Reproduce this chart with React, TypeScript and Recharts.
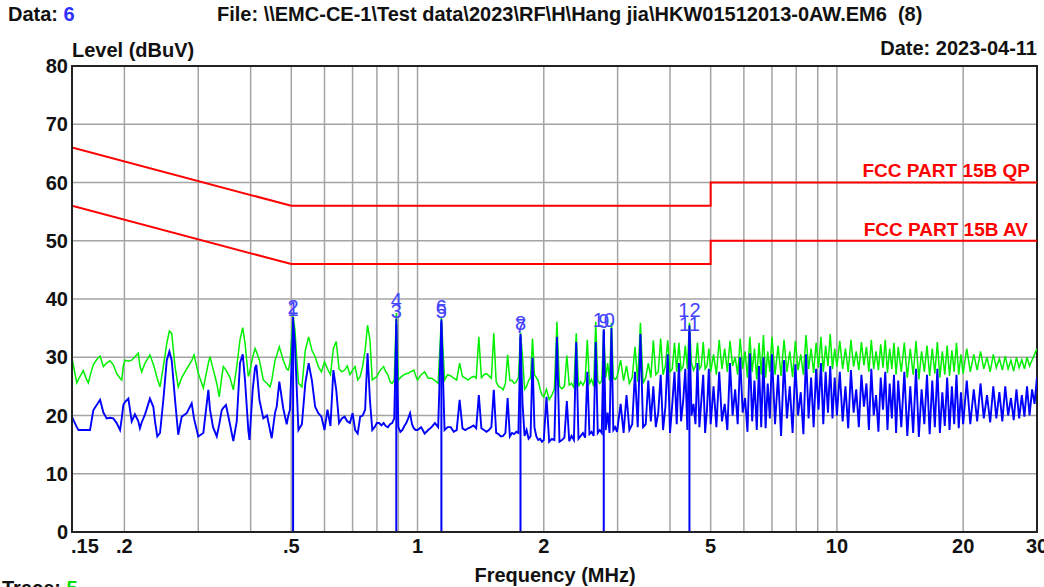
import React from 'react';
import {
  ComposedChart, Line, Scatter, XAxis, YAxis, CartesianGrid, ReferenceLine, ReferenceArea
} from 'recharts';

const FONT = '"Liberation Sans", Arial, sans-serif';

// sweep 0.15 - 0.5 MHz
const bandAFreq = [
  0.150, 0.1517, 0.154, 0.1554, 0.1568, 0.1596, 0.1626, 0.1641, 0.1656, 0.1686,
  0.1718, 0.175, 0.1782, 0.1815, 0.1848, 0.1882, 0.1917, 0.1953, 0.1971, 0.1988,
  0.2006, 0.2044, 0.2082, 0.2119, 0.2159, 0.2178, 0.2199, 0.224, 0.2301, 0.2344,
  0.2366, 0.2396, 0.2432, 0.2477, 0.2524, 0.256, 0.2593, 0.2641, 0.2688, 0.274,
  0.2816, 0.2894, 0.2931, 0.3, 0.3085, 0.3171, 0.32, 0.3254, 0.3321, 0.3367,
  0.3412, 0.3442, 0.3494, 0.3571, 0.3637, 0.3706, 0.3773, 0.383, 0.3879, 0.3949,
  0.3975, 0.4045, 0.4098, 0.4127, 0.4197, 0.4289, 0.4377, 0.4449, 0.4491, 0.4573,
  0.4615, 0.4682, 0.4785, 0.4876, 0.4919, 0.4964
];
const bandAPeak = [
  29.9, 28.0, 25.6, 26.2, 26.7, 27.7, 26.1, 25.6, 26.8, 28.7,
  29.6, 30.2, 28.4, 29.0, 29.4, 28.7, 27.2, 26.4, 26.1, 28.5,
  29.5, 29.3, 29.5, 30.1, 30.7, 28.5, 27.5, 29.0, 30.4, 28.8,
  27.8, 26.3, 24.9, 28.4, 32.4, 34.5, 34.1, 28.4, 24.9, 26.5,
  28.0, 29.4, 30.4, 27.3, 24.7, 29.0, 30.1, 28.0, 25.5, 23.2,
  26.5, 28.4, 27.8, 26.5, 24.4, 28.4, 33.0, 35.1, 32.4, 26.7,
  27.3, 30.0, 31.5, 31.0, 29.5, 26.1, 25.5, 24.9, 26.0, 29.5,
  30.3, 31.8, 29.5, 28.0, 27.8, 29.0
];
const bandAAvg = [
  19.8, 19.0, 18.0, 17.5, 17.5, 17.5, 17.5, 17.5, 17.5, 20.9,
  21.8, 22.7, 20.5, 19.5, 19.6, 19.5, 18.7, 17.5, 19.5, 21.8,
  22.3, 22.9, 19.0, 20.2, 19.0, 17.8, 18.8, 20.2, 22.9, 21.5,
  19.0, 16.4, 17.0, 22.7, 29.5, 31.0, 29.5, 22.7, 16.7, 19.8,
  20.4, 22.1, 19.5, 16.4, 17.0, 24.4, 21.0, 18.0, 16.4, 18.5,
  20.9, 21.3, 21.8, 18.5, 15.6, 19.0, 29.0, 30.5, 26.0, 17.5,
  15.8, 24.4, 28.2, 28.7, 22.7, 19.5, 20.0, 17.5, 16.1, 20.5,
  21.5, 25.8, 21.2, 18.5, 20.0, 21.0
];

// sweep 0.5 - 2 MHz
const bandBFreq = [
  0.505,
  0.51, 0.52, 0.53, 0.54, 0.55, 0.56, 0.57, 0.58, 0.59, 0.60,
  0.61, 0.62, 0.63, 0.64, 0.65, 0.66, 0.67, 0.68, 0.69, 0.70,
  0.71, 0.72, 0.73, 0.74, 0.75, 0.76, 0.77, 0.78, 0.79, 0.80,
  0.81, 0.82, 0.83, 0.84, 0.85, 0.86, 0.87, 0.88, 0.89, 0.90,
  0.91, 0.92, 0.93, 0.94, 0.95, 0.96, 0.97, 0.98, 0.99, 1.00,
  1.02, 1.04, 1.06, 1.08, 1.10, 1.12, 1.14, 1.16, 1.18, 1.20,
  1.22, 1.24, 1.26, 1.28, 1.30, 1.32, 1.34, 1.36, 1.38, 1.40,
  1.42, 1.44, 1.46, 1.48, 1.50, 1.52, 1.54, 1.56, 1.58, 1.60,
  1.62, 1.64, 1.66, 1.68, 1.70, 1.72, 1.74, 1.76, 1.78, 1.80,
  1.82, 1.84, 1.86, 1.88, 1.90, 1.92, 1.94, 1.96, 1.98, 2.00
];
const bandBPeak = [
  37.2,
  34.7, 25.6, 24.9, 31.2, 33.5, 31.2, 30.1, 28.4, 27.5, 29.2,
  28.0, 27.0, 31.5, 32.7, 28.0, 27.5, 27.8, 28.5, 27.0, 27.8,
  28.4, 26.1, 26.7, 28.5, 31.2, 35.5, 33.0, 26.1, 26.4, 26.7,
  27.5, 28.0, 28.4, 27.5, 27.0, 25.8, 25.5, 26.1, 37.6, 26.1,
  26.5, 26.8, 27.0, 27.2, 27.2, 27.5, 27.6, 27.8, 26.8, 26.1,
  27.0, 27.5, 26.4, 26.4, 26.0, 25.5, 36.8, 26.1, 27.0, 26.8,
  26.4, 26.1, 29.0, 26.7, 26.4, 26.1, 26.5, 26.7, 26.4, 33.5,
  26.5, 27.0, 27.2, 26.8, 26.4, 34.1, 25.8, 25.0, 24.8, 24.4,
  25.5, 30.4, 26.0, 26.0, 25.5, 25.8, 26.5, 34.2, 30.0, 24.5,
  25.0, 26.0, 26.5, 33.2, 27.0, 26.5, 26.0, 24.5, 23.5, 23.2
];
const bandBAvg = [
  36.0,
  32.4, 17.5, 18.5, 25.5, 29.0, 26.0, 21.5, 20.4, 19.8, 17.5,
  21.0, 18.2, 27.8, 24.4, 18.7, 19.5, 19.8, 19.0, 18.7, 20.4,
  17.5, 16.9, 19.8, 20.0, 21.0, 30.7, 22.7, 17.5, 18.0, 18.7,
  18.7, 18.3, 18.7, 18.2, 18.0, 18.5, 18.7, 19.5, 35.6, 18.0,
  17.2, 17.5, 18.2, 18.7, 19.5, 20.4, 18.5, 17.8, 17.5, 17.5,
  18.0, 16.9, 17.5, 18.0, 18.7, 18.0, 36.0, 17.5, 18.0, 18.0,
  17.2, 17.5, 22.7, 17.8, 17.5, 17.8, 18.0, 18.3, 17.8, 23.5,
  17.8, 17.5, 17.2, 17.5, 18.0, 24.4, 17.0, 16.8, 16.4, 16.5,
  17.0, 23.0, 16.4, 17.0, 16.8, 17.2, 17.0, 33.5, 22.0, 16.5,
  17.5, 16.0, 16.4, 29.9, 18.0, 16.4, 15.8, 16.0, 15.5, 15.8
];

// sweep 2 - 5 MHz
const bandCFreq = [
  2.03, 2.06, 2.09, 2.12, 2.15, 2.18, 2.21, 2.24, 2.27, 2.30,
  2.33, 2.36, 2.39, 2.42, 2.45, 2.48, 2.51, 2.54, 2.57, 2.60,
  2.63, 2.66, 2.69, 2.72, 2.75, 2.78, 2.81, 2.84, 2.87, 2.90,
  2.93, 2.96, 2.99,
  3.05, 3.10, 3.15, 3.20, 3.25, 3.30, 3.35, 3.40, 3.45, 3.50,
  3.55, 3.60, 3.65, 3.70, 3.75, 3.80, 3.85, 3.90, 3.95, 4.00,
  4.05, 4.10, 4.15, 4.20, 4.25, 4.30, 4.35, 4.40, 4.45, 4.50,
  4.55, 4.60, 4.65, 4.70, 4.75, 4.80, 4.85, 4.90, 4.95, 5.00
];
const bandCPeak = [
  24.5, 22.7, 23.5, 24.5, 36.1, 25.0, 24.6, 25.0, 30.3, 25.2,
  25.5, 24.8, 34.1, 25.0, 25.8, 25.2, 26.0, 33.0, 25.5, 26.2,
  25.0, 36.1, 26.0, 25.5, 26.0, 34.8, 26.5, 29.0, 26.0, 35.9,
  26.5, 26.2, 26.6,
  29.5, 26.0, 28.5, 25.5, 26.5, 31.8, 25.8, 35.9, 25.5, 26.5,
  29.0, 26.5, 32.9, 27.0, 27.5, 33.2, 27.0, 28.5, 32.9, 27.5,
  28.0, 32.5, 27.5, 32.5, 27.8, 28.5, 32.0, 28.0, 35.9, 29.0,
  27.8, 28.5, 32.5, 28.0, 28.5, 32.6, 28.0, 28.5, 31.5, 27.5
];
const bandCAvg = [
  23.2, 15.5, 16.0, 15.8, 33.5, 15.5, 15.8, 16.2, 22.5, 15.6,
  16.5, 15.8, 32.6, 16.0, 16.5, 17.0, 16.2, 27.5, 16.8, 17.2,
  16.5, 32.6, 17.0, 17.5, 17.0, 34.5, 17.5, 20.5, 17.0, 35.0,
  17.5, 18.0, 17.2,
  22.0, 17.0, 23.5, 17.5, 18.5, 27.5, 18.0, 34.0, 18.0, 18.5,
  26.0, 19.0, 25.0, 18.0, 20.5, 27.0, 17.5, 21.5, 30.5, 17.0,
  22.0, 27.5, 18.5, 29.0, 19.0, 22.5, 28.0, 17.5, 35.5, 20.0,
  22.0, 18.5, 29.0, 18.0, 22.5, 27.0, 17.0, 21.0, 28.0, 18.5
];

// sweep 5 - 30 MHz
const bandDFreq = [
  5.08, 5.16, 5.24, 5.32, 5.40, 5.48, 5.56, 5.64, 5.72, 5.80, 5.88, 5.96, 6.04,
  6.12, 6.20, 6.28, 6.36, 6.44, 6.52, 6.60, 6.68, 6.76, 6.84, 6.92, 7.00,
  7.12, 7.24, 7.36, 7.48, 7.60, 7.72, 7.84, 7.96, 8.08, 8.20, 8.32, 8.44, 8.56,
  8.68, 8.80, 8.92, 9.04, 9.16, 9.28, 9.40, 9.52, 9.64, 9.76, 9.88, 10.0,
  10.16, 10.32, 10.48, 10.64, 10.80, 10.96, 11.12, 11.28, 11.44, 11.60, 11.76, 11.92, 12.08,
  12.24, 12.40, 12.56, 12.72, 12.88, 13.04, 13.20, 13.36, 13.52, 13.68, 13.84, 14.0,
  14.24, 14.48, 14.72, 14.96, 15.20, 15.44, 15.68, 15.92, 16.16, 16.40, 16.64, 16.88, 17.12,
  17.36, 17.60, 17.84, 18.08, 18.32, 18.56, 18.80, 19.04, 19.28, 19.52, 19.76, 20.0,
  20.4, 20.8, 21.2, 21.6, 22.0, 22.4, 22.8, 23.2, 23.6, 24.0, 24.4, 24.8, 25.2,
  25.6, 26.0, 26.4, 26.8, 27.2, 27.6, 28.0, 28.4, 28.8, 29.2, 29.6, 30.0
];
const bandDPeak = [
  30.5, 27.0, 33.0, 28.0, 31.5, 27.5, 32.8, 28.5, 30.0, 27.0, 33.2, 28.0, 31.0,
  26.5, 33.5, 27.5, 31.5, 26.2, 32.5, 27.0, 33.8, 26.5, 31.0, 27.5, 33.5,
  27.0, 32.0, 26.8, 33.0, 27.5, 31.0, 26.6, 32.8, 27.8, 30.5, 27.0, 33.8, 28.0,
  31.5, 27.3, 32.5, 28.2, 33.5, 27.5, 32.0, 28.5, 34.0, 28.0, 31.5, 28.4,
  32.8, 28.0, 31.5, 27.5, 33.0, 28.4, 31.0, 27.8, 32.6, 28.6, 31.8, 27.5, 33.0,
  28.0, 31.0, 27.8, 32.2, 28.2, 33.0, 27.3, 31.5, 28.0, 32.5, 27.0, 31.8,
  27.5, 32.5, 26.5, 31.5, 27.0, 32.8, 26.2, 31.0, 27.5, 32.0, 26.8, 31.5, 27.2,
  32.6, 26.5, 31.0, 27.0, 32.0, 26.8, 31.2, 27.5, 32.5, 27.0, 30.5, 27.2,
  31.5, 27.5, 30.5, 27.8, 31.0, 28.0, 30.0, 27.5, 30.5, 28.2, 29.8, 27.8, 30.2,
  28.0, 29.5, 27.6, 30.0, 28.2, 29.6, 28.0, 30.0, 28.5, 29.5, 30.5, 31.5
];
const bandDAvg = [
  25.0, 18.0, 27.5, 19.0, 22.0, 17.5, 29.0, 20.0, 24.5, 18.5, 30.0, 20.5, 23.0,
  17.2, 30.7, 19.0, 26.0, 17.5, 28.5, 18.0, 30.0, 17.8, 25.5, 19.5, 30.5,
  18.5, 27.0, 16.5, 29.5, 19.5, 25.0, 17.0, 28.8, 20.0, 24.0, 16.8, 30.5, 19.5,
  26.5, 18.0, 28.0, 21.0, 29.0, 18.5, 27.5, 20.5, 28.5, 19.5, 26.5, 20.0,
  27.5, 19.0, 25.0, 17.8, 27.8, 20.5, 24.5, 18.0, 27.0, 21.5, 25.5, 17.5, 28.0,
  20.0, 23.5, 17.2, 26.5, 21.0, 27.5, 17.5, 25.5, 19.5, 27.0, 17.0, 26.0,
  18.0, 27.5, 16.5, 25.0, 17.0, 28.0, 16.3, 24.5, 18.5, 27.0, 16.8, 26.0, 18.0,
  28.0, 17.0, 24.0, 18.2, 26.5, 17.5, 25.0, 18.5, 27.0, 17.8, 24.0, 18.5,
  26.0, 18.5, 24.5, 19.0, 25.5, 19.5, 23.5, 18.8, 25.0, 19.5, 24.0, 19.0, 25.0,
  20.0, 23.0, 19.2, 24.5, 19.5, 23.5, 19.8, 25.0, 20.0, 24.5, 22.0, 26.6
];

// FCC Part 15B class B conducted limits
const limitFreq = [0.15, 0.5, 5, 5, 30];
const qpLimit = [66, 56, 56, 60, 60];
const avLimit = [56, 46, 46, 50, 50];

// final measurement markers
const markerIds = [1, 2, 3, 4, 5, 6, 7, 8, 9, 10, 11, 12];
const markerFreq = [0.505, 0.505, 0.89, 0.89, 1.14, 1.14, 1.76, 1.76, 2.78, 2.78, 4.45, 4.45];
const markerLevel = [36.9, 37.2, 36.6, 38.5, 36.5, 37.3, 34.0, 34.5, 34.8, 35.0, 34.3, 36.7];

const xTicks = [0.15, 0.2, 0.3, 0.4, 0.5, 0.6, 0.7, 0.8, 0.9, 1, 2, 3, 4, 5, 6, 7, 8, 9, 10, 20, 30];
const xTickText = ['.15', '.2', '', '', '.5', '', '', '', '', '1', '2', '', '', '5', '', '', '', '', '10', '20', '30'];
const yTicks = [0, 10, 20, 30, 40, 50, 60, 70, 80];

const toPoints = (freqs: number[], vals: number[]) => freqs.map((f, i) => ({ f, v: vals[i] }));

const allFreq = [...bandAFreq, ...bandBFreq, ...bandCFreq, ...bandDFreq];
const peakData = toPoints(allFreq, [...bandAPeak, ...bandBPeak, ...bandCPeak, ...bandDPeak]);
const avgData = toPoints(allFreq, [...bandAAvg, ...bandBAvg, ...bandCAvg, ...bandDAvg]);
const qpData = toPoints(limitFreq, qpLimit);
const avData = toPoints(limitFreq, avLimit);
const markerData = markerIds.map((id, i) => ({ f: markerFreq[i], v: markerLevel[i], id }));

const XTick = (props: any) => {
  const { x, y, payload } = props;
  const i = xTicks.indexOf(payload.value);
  const label = i >= 0 ? xTickText[i] : '';
  if (!label) return <g />;
  const first = payload.value === 0.15;
  return (
    <text x={first ? x - 1 : x} y={y + 21} textAnchor={first ? 'start' : 'middle'}
      fontFamily={FONT} fontSize={20} fontWeight={700} fill="#111">{label}</text>
  );
};

const YTick = (props: any) => {
  const { x, y, payload } = props;
  return (
    <text x={x} y={y + 7} textAnchor="end" fontFamily={FONT} fontSize={20} fontWeight={700} fill="#111">
      {payload.value}
    </text>
  );
};

const MarkerLabel = (props: any) => (
  <text x={props.cx} y={props.cy - 1} textAnchor="middle" fontFamily={FONT} fontSize={20} fill="#4444ff">
    {props.payload.id}
  </text>
);

const txt = { fontFamily: FONT, fontSize: 20, fontWeight: 700, fill: '#111', whiteSpace: 'pre' as const };

export default function App() {
  return (
    <div style={{ position: 'absolute', left: 0, top: 0, width: 1044, height: 587, overflow: 'hidden', background: '#fff' }}>
      <ComposedChart width={1044} height={587} margin={{ top: 66, right: 7, bottom: 25, left: 12 }}>
        <CartesianGrid stroke="#a4a4a4" strokeWidth={1.5} />
        <XAxis dataKey="f" type="number" scale="log" domain={[0.15, 30]} allowDataOverflow
          ticks={xTicks} interval={0} tick={<XTick />} tickLine={false} tickSize={0} tickMargin={0}
          axisLine={{ stroke: '#222', strokeWidth: 2 }} height={30} />
        <YAxis dataKey="v" type="number" domain={[0, 80]} ticks={yTicks} interval={0} tick={<YTick />}
          tickLine={false} tickSize={0} tickMargin={4} axisLine={{ stroke: '#222', strokeWidth: 2 }} width={60} />
        <Line data={peakData} dataKey="v" stroke="#00f000" strokeWidth={1.5} dot={false} isAnimationActive={false} />
        <Line data={avgData} dataKey="v" stroke="#0000ff" strokeWidth={1.9} dot={false} isAnimationActive={false} />
        <Line data={qpData} dataKey="v" stroke="#ff0000" strokeWidth={2} dot={false} isAnimationActive={false} />
        <Line data={avData} dataKey="v" stroke="#ff0000" strokeWidth={2} dot={false} isAnimationActive={false} />
        {markerData.filter((_, i) => i % 2 === 0).map((m) => (
          <ReferenceLine key={m.id} segment={[{ x: m.f, y: 0 }, { x: m.f, y: m.v }]} stroke="#0000ff" strokeWidth={2} />
        ))}
        <Scatter data={markerData} dataKey="v" shape={<MarkerLabel />} isAnimationActive={false} />
        <ReferenceArea x1={0.15} x2={30} y1={0} y2={80} fill="none" stroke="#222" strokeWidth={2} />
      </ComposedChart>
      <svg width={1044} height={587} style={{ position: 'absolute', left: 0, top: 0, pointerEvents: 'none' }}>
        <text x={8} y={21} style={txt}>Data: <tspan fill="#3030ff">6</tspan></text>
        <text x={217} y={21} style={txt}>{'File: \\\\EMC-CE-1\\Test data\\2023\\RF\\H\\Hang jia\\HKW01512013-0AW.EM6  (8)'}</text>
        <text x={72} y={57} style={txt}>Level (dBuV)</text>
        <text x={1037} y={55} textAnchor="end" style={txt}>Date: 2023-04-11</text>
        <text x={1030} y={177} textAnchor="end" style={{ ...txt, fontSize: 19, fill: '#ff0000' }}>FCC PART 15B QP</text>
        <text x={1028} y={236} textAnchor="end" style={{ ...txt, fontSize: 19, fill: '#ff0000' }}>FCC PART 15B AV</text>
        <text x={555} y={582} textAnchor="middle" style={txt}>Frequency (MHz)</text>
        <text x={2} y={595} style={txt}>Trace: <tspan fill="#00e000">5</tspan></text>
      </svg>
    </div>
  );
}
